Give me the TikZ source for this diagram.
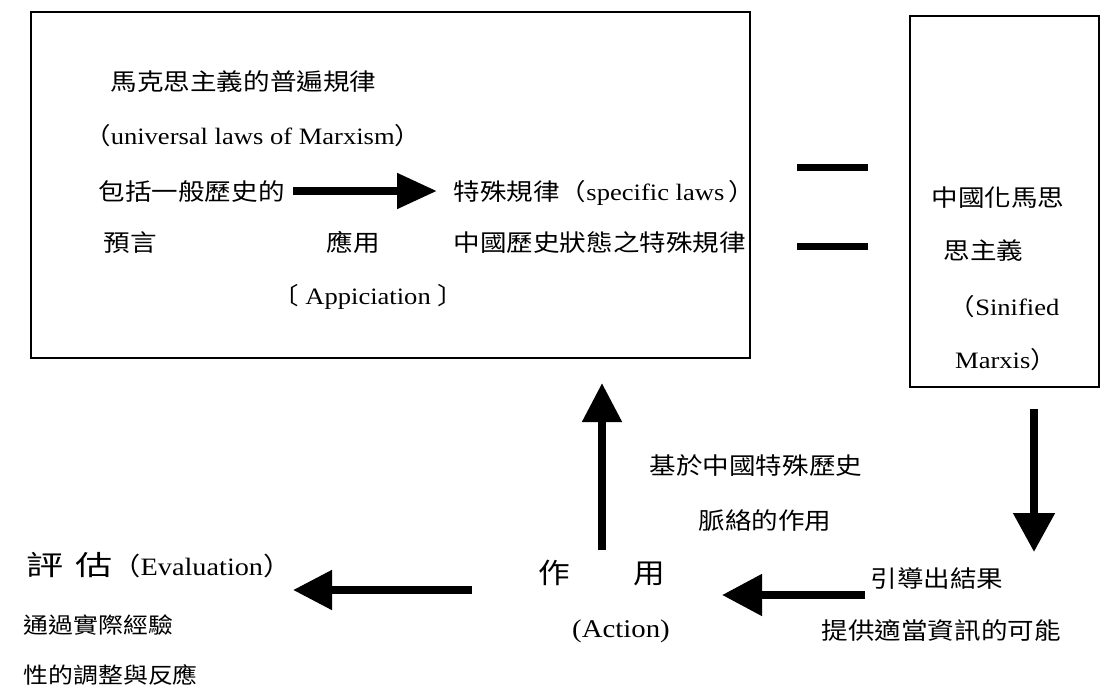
\documentclass[tikz,border=0pt]{standalone}
\usepackage{fontspec}
\setmainfont{Liberation Serif}[FakeStretch=1.13]
\newfontfamily\cjk{Noto Sans CJK TC}[FakeStretch=1.13]
\newfontfamily\cjkwide{Noto Sans CJK TC}[FakeStretch=1.35]
\newcommand\szpt[1]{\fontsize{#1}{#1}\selectfont}
\usetikzlibrary{arrows.meta}
\tikzset{
  txt/.style={anchor=base west, inner sep=0pt, font=\szpt{23.5}},
  frame/.style={draw=black, line width=1.5pt, inner sep=0pt, anchor=north west},
  fatarrow/.style={line width=8pt, -{Triangle[length=39pt,width=38pt]}},
  eqbar/.style={line width=7pt},
}
\begin{document}
\begin{tikzpicture}[x=1pt,y=-1pt]
\fill[white] (0,0) rectangle (1101,691);
\useasboundingbox (0,0) rectangle (1101,691);

% boxes
\node[frame, minimum width=719pt, minimum height=346pt] (main) at (30,11) {};
\node[frame, minimum width=189pt, minimum height=371pt] (sin) at (909,15) {};

% texts in main box
\node[txt] (t1) at (110.5,90.7) {\cjk 馬克思主義的普遍規律};
\node[txt] (t2) at (84,144) {{\cjk （}universal laws of Marxism{\cjk ）}};
\node[txt] (t3) at (98.5,200.7) {\cjk 包括一般歷史的};
\node[txt] (t4) at (453.5,200.7) {{\cjk 特殊規律（}specific laws\,{\cjk ）}};
\node[txt] (t5) at (103.5,251) {\cjk 預言};
\node[txt] (t6) at (326.5,251) {\cjk 應用};
\node[txt] (t7) at (453.5,251) {\cjk 中國歷史狀態之特殊規律};
\node[txt] (t8) at (272,304) {{\cjk 〔} Appiciation {\cjk 〕}};

% texts in right box
\node[txt] (t9) at (931.5,206) {\cjk 中國化馬思};
\node[txt] (t10) at (943.5,259) {\cjk 思主義};
\node[txt] (t11) at (948.5,315) {{\cjk （}Sinified};
\node[txt] (t12) at (955,368) {Marxis{\cjk ）}};

% bottom texts
\node[txt] (t13) at (649.5,474) {\cjk 基於中國特殊歷史};
\node[txt] (t14) at (698.5,529) {\cjk 脈絡的作用};
\node[txt] (t15) at (870.5,587) {\cjk 引導出結果};
\node[txt] (t16) at (821.5,639) {\cjk 提供適當資訊的可能};
\node[txt, font=\szpt{28}] (t17) at (538.5,583.6) {\cjk 作　　用};
\node[txt, font=\szpt{25.5}] (t18) at (572,637) {(Action)};
\node[txt, font=\szpt{25}] (t19) at (26,575.5) {{\cjkwide\szpt{27.5}評\hspace{12pt}估}{\cjk （}Evaluation{\cjk ）}};
\node[txt, font=\szpt{22}] (t20) at (23.5,633.4) {\cjk 通過實際經驗};
\node[txt, font=\szpt{22}] (t21) at (23.5,683) {\cjk 性的調整與反應};

% equals sign
\coordinate (e1a) at (797,167); \coordinate (e1b) at (868,167);
\coordinate (e2a) at (797,246); \coordinate (e2b) at (868,246);
\draw[eqbar] (e1a) -- (e1b);
\draw[eqbar] (e2a) -- (e2b);

% arrows
\coordinate (a1s) at (293,191); \coordinate (a1e) at (437,191);
\coordinate (a2s) at (602,550); \coordinate (a2e) at (602,383);
\coordinate (a3s) at (1034,409); \coordinate (a3e) at (1034,552);
\coordinate (a4s) at (865,595); \coordinate (a4e) at (722,595);
\coordinate (a5s) at (472,590); \coordinate (a5e) at (293,590);
\draw[fatarrow, -{Triangle[length=40pt,width=34pt]}] (a1s) -- (a1e);
\draw[fatarrow] (a2s) -- (a2e);
\draw[fatarrow, -{Triangle[length=39pt,width=40pt]}] (a3s) -- (a3e);
\draw[fatarrow, -{Triangle[length=40pt,width=40pt]}] (a4s) -- (a4e);
\draw[fatarrow] (a5s) -- (a5e);
\end{tikzpicture}
\end{document}
